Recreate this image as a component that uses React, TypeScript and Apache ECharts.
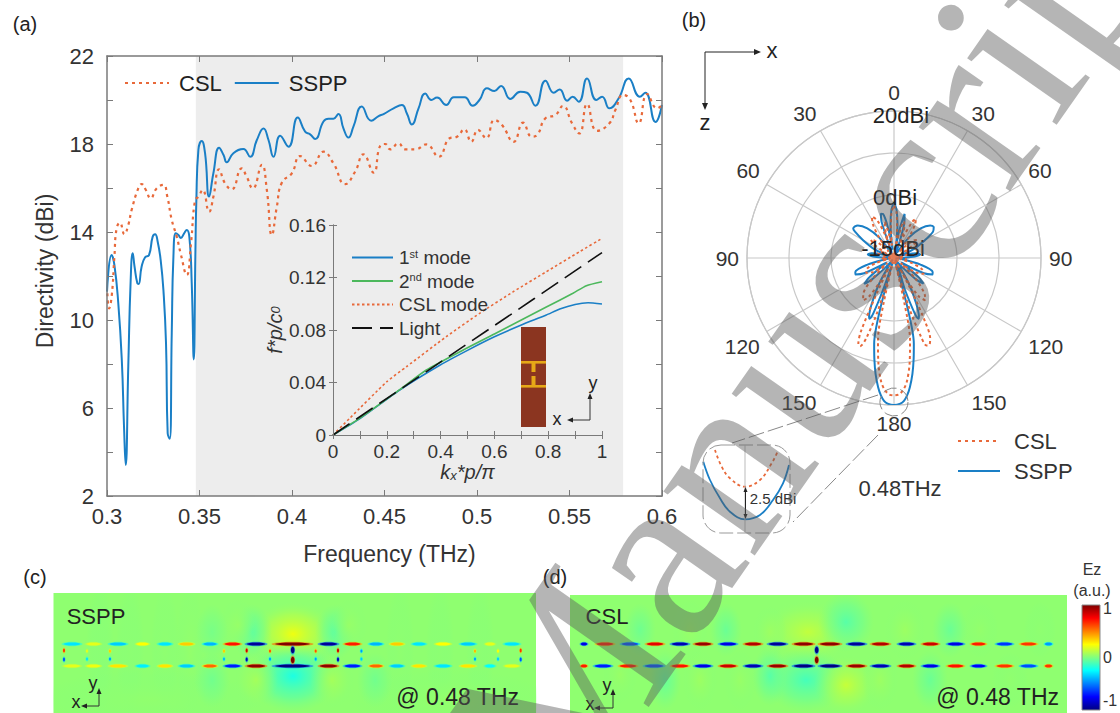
import React, { useEffect, useRef } from "react";
import * as echarts from "echarts";

const SANS = "'Liberation Sans', Arial, sans-serif";
const INK = "#333333";
const AXIS = "#7a7a7a";
const BLUE = "#1a7fc6";
const ORANGE = "#e8693a";

// (a) directivity: [frequency THz, dBi]
const sspp: number[][] = [[.3,11.29],[.3025,12.95],[.304,12.5],[.3061,10.76],[.308,8.18],[.3092,5.15],[.3101,3.41],[.3115,7.88],[.3128,11.82],[.3139,13.03],[.3149,12.42],[.3164,11.67],[.3171,11.64],[.3187,12.42],[.3206,12.85],[.3227,12.95],[.3247,13.79],[.326,13.9],[.3274,13.56],[.329,12.73],[.3305,11.36],[.3319,8.94],[.3328,4.85],[.3339,4.6],[.335,9.4],[.3359,12.88],[.3372,13.94],[.3386,13.86],[.3399,13.73],[.3417,13.94],[.3431,14.09],[.3445,13.79],[.3458,11.67],[.3469,8.21],[.3478,13.18],[.3483,15.45],[.3494,17.73],[.3512,18.14],[.353,17.58],[.3552,15.61],[.3575,16.67],[.3606,17.83],[.363,17.5],[.3647,17.17],[.3683,17.58],[.3737,17.77],[.3774,17.42],[.381,18.18],[.3846,18.7],[.3873,18.18],[.39,17.42],[.3936,18.38],[.3981,17.88],[.4031,19.2],[.4071,18.56],[.4098,18.44],[.4125,18.23],[.417,19.02],[.4197,19.15],[.4224,19.15],[.4251,19.36],[.4278,18.71],[.4305,18.29],[.4332,18.79],[.4377,19.7],[.4428,19.06],[.4468,19.27],[.4495,19.36],[.4549,19.62],[.4594,19.77],[.4621,19.39],[.4648,18.89],[.4684,19.62],[.472,20.3],[.4753,20],[.4784,20.11],[.4834,19.77],[.4874,20.12],[.4933,20.12],[.4977,19.74],[.5013,20],[.5054,20.53],[.5094,20.41],[.513,20.64],[.518,20.05],[.5234,20.38],[.527,20.33],[.5316,19.74],[.537,20.88],[.5415,20.33],[.5447,20.48],[.5487,19.97],[.5517,20.15],[.555,19.92],[.5595,20.98],[.5645,20],[.5676,20.15],[.5716,19.62],[.5766,20.08],[.582,20.98],[.588,20.15],[.591,20.33],[.5965,19],[.6,19.77]];
const csl: number[][] = [[.3002,11.21],[.3011,10.53],[.3025,11.06],[.304,12.88],[.3052,14.17],[.307,14.42],[.3094,13.9],[.3115,14.32],[.3133,15],[.3169,15.98],[.3187,16.18],[.321,15.91],[.3236,15.53],[.3268,15.98],[.3305,16.14],[.3326,15.61],[.335,14.55],[.3377,13.79],[.3398,13.03],[.3431,12.05],[.3454,13.49],[.3476,15.45],[.3494,15.6],[.3517,15.91],[.3552,14.92],[.3575,15.6],[.3606,16.85],[.3638,16.21],[.3674,15.94],[.3728,16.89],[.3755,16.51],[.3788,15.98],[.3837,17.05],[.3864,15.91],[.3891,13.86],[.3918,15.15],[.3945,16.24],[.3999,16.67],[.4044,17.45],[.4107,17],[.417,17.65],[.4224,17.12],[.4287,16.18],[.4341,16.74],[.4386,17.53],[.4441,16.7],[.4477,17.92],[.4504,18],[.4531,17.76],[.4576,18.03],[.4612,17.76],[.4666,17.76],[.4726,17.98],[.4793,17.42],[.4852,18.26],[.4892,18.33],[.4931,18.67],[.4969,18.1],[.5005,18.64],[.505,18.26],[.5094,19.09],[.5135,18.86],[.5198,18.1],[.5249,18.97],[.5297,18.33],[.5325,18.41],[.537,19.17],[.5424,19.32],[.5465,19.73],[.5514,18.94],[.5553,18.48],[.5595,19.82],[.5649,18.6],[.5716,18.94],[.5748,19.55],[.579,20.23],[.5829,20],[.5874,18.94],[.592,20.27],[.5974,19.62],[.6,19.77]];
const shadeRange = [0.348, 0.579];
const freqTicks = ["0.3", "0.35", "0.4", "0.45", "0.5", "0.55", "0.6"];
const dirTicks = ["2", "", "6", "", "10", "", "14", "", "18", "", "22"];

// inset dispersion: [kx*p/pi, f*p/c0]
const mode1: number[][] = [[0,0],[.1,.0125],[.248,.0343],[.4,.0535],[.5,.0645],[.6,.0748],[.7,.0838],[.793,.0914],[.843,.096],[.9,.0995],[.948,.1008],[1,.0998]];
const mode2: number[][] = [[0,0],[.1,.0128],[.248,.0345],[.347,.0495],[.5,.0665],[.6,.077],[.7,.0876],[.793,.0975],[.892,.108],[.942,.1138],[1,.1168]];
const cslMode: number[][] = [[0,0],[.062,.0127],[.2,.0406],[.273,.052],[.421,.0749],[.545,.0927],[.669,.109],[.793,.1244],[.917,.1397],[1,.1498]];
const lightLine: number[][] = [[0,0],[.25,.0348],[.5,.0695],[.75,.1042],[1,.139]];
const kTicks = ["0", "", "0.2", "", "0.4", "", "0.6", "", "0.8", "", "1"];
const fTicks = ["0", "0.04", "0.08", "0.12", "0.16"];

// (b) radiation pattern: [angle deg, dBi]
const ssppPolar: number[][] = [[0,-1.7],[3,-3.5],[6,-7],[8,-11],[9,-13],[11,-8],[13.5,-4.2],[16,-6],[19,-11],[22,-14],[26,-13],[30,-13.5],[36,-9],[42,-5.5],[48,-3.4],[52,-3],[56,-3.8],[60,-6.5],[66,-10],[72,-14],[74,-12],[78,-9.5],[82,-8.7],[86,-10],[90,-13.5],[96,-14.5],[98,-13],[104,-8.5],[110,-5.2],[113,-5],[117,-7],[122,-13],[124,-12],[128,-7.5],[131,-5.7],[134,-7.5],[138,-12],[142,-14.5],[146,-13],[150,-8],[154,-3],[157,.2],[158,.6],[159.5,-1],[161,-7],[163,-14],[163.5,-14],[164.5,-5],[165.6,2],[167,6],[169,9.5],[171,13],[173,16],[174.5,17.8],[176,19.1],[177.5,19.7],[180,20],[182.5,19.7],[184,19.1],[185.5,17.8],[187,16],[189,13],[191,9.5],[193,6],[194.4,2],[195.5,-5],[196.5,-14],[199,-7],[200.5,-1],[202,.6],[203,.2],[206,-3],[210,-8],[214,-13],[218,-14.5],[222,-12],[226,-7.5],[229,-5.6],[232,-7.5],[236,-12],[238,-13],[243,-7],[247,-5],[250,-5.2],[256,-8.5],[262,-13],[264,-14],[270,-13.5],[274,-10],[278,-8.7],[282,-9.5],[286,-12],[288,-14],[294,-10],[300,-6.5],[304,-3.8],[306,-3],[312,-3.4],[318,-5.5],[324,-9],[330,-14],[338,-13],[341,-6],[343.5,-4],[346,-4.2],[349,-8],[351,-13],[352,-11],[354,-7],[357,-3.5],[360,-1.7]];
const cslPolar: number[][] = [[0,-2.5],[3,-4],[6,-8],[9,-12],[12,-9],[15,-6],[18,-7],[21,-12],[24,-9],[27,-5.2],[29,-4.3],[32,-5.5],[36,-9],[40,-13],[44,-11],[48,-8.8],[52,-8],[56,-9.5],[60,-13],[66,-11.5],[72,-11],[78,-12.5],[84,-14],[90,-12.5],[95,-12],[100,-13.5],[106,-10.5],[112,-7.8],[118,-7],[124,-9],[128,-13],[134,-8],[140,-3.6],[143.5,-2.5],[147,-4],[150,-9],[151,-13.5],[152,-6],[154,2],[155.8,6],[158,7.4],[159.7,7.2],[161,5],[163,-2],[165,-12],[166,-14],[167,-4],[169,5],[171.6,10.4],[174,14.5],[176,16.5],[178,17.5],[180,17.7],[182,17.5],[184,16.5],[186,14.5],[188.4,10.4],[191,5],[193,-4],[194,-14],[195,-12],[197,-2],[199,5],[201,7.5],[202.5,7.2],[204.3,4],[206,-6],[208,-13],[210,-9],[213,-4],[216,-2.5],[220,-3.6],[226,-8],[232,-13],[236,-9],[242,-7.5],[248,-8],[254,-10.5],[260,-13.5],[265,-12],[270,-12.5],[276,-14],[282,-12.5],[288,-11],[294,-11.5],[300,-13],[304,-9.5],[308,-8],[312,-8.8],[316,-11],[320,-13],[324,-9],[328,-5.5],[332,-3.8],[336,-5.2],[339,-9],[341,-12],[344,-7],[346,-6],[348,-9],[351,-12],[354,-8],[357,-4],[360,-2.5]];
const cslCore: number[][] = [[-15, 0]];
const angleTicks = ["0","30","60","90","120","150","180","150","120","90","60","30"];
const ringValues = [0, 10, 20];
const ringLabels = ["20dBi", "0dBi", "-15dBi"];

// zoomed detail of the main lobe: [offset across, offset down]
const detailSspp: number[][] = [[.3,16.7],[7,35],[17,53.3],[27,66.7],[42,74.3],[57,70],[70,55],[80,38.3],[86,20]];
const detailCsl: number[][] = [[12,5],[18.7,21.7],[27,33.3],[42,41.7],[57,35],[68.7,18.3],[75.3,5]];

// (c) and (d) field: background lobes [x, y, rx, ry, Ez]
const fieldC: number[][] = [[130,650,14,65,.025],[165,650,14,65,.03],[100,650,14,65,.02],[190,650,14,65,.04],[400,650,14,65,.03],[440,650,14,65,.025],[480,650,14,65,.025],[150,700,110,30,.035],[450,700,100,30,.04],[293,634,44,32,.24],[293,676,46,36,-.22],[252,632,20,28,-.08],[335,632,20,28,-.08],[238,625,18,26,.05],[349,625,18,26,.05],[256,680,22,28,.08],[332,680,22,28,.08],[212,680,18,28,-.035],[375,680,18,28,-.035],[212,632,16,28,-.02]];
const fieldD: number[][] = [[808,632,48,32,.14],[846,622,28,30,-.09],[806,680,42,32,-.13],[846,685,32,30,.15],[770,676,18,30,-.09],[770,632,17,26,.06],[740,680,16,30,.05],[726,630,16,27,-.05],[690,630,18,30,.05],[665,680,16,30,-.06],[700,680,17,30,.06],[640,630,16,27,-.04],[620,675,17,28,.05],[905,630,20,30,.06],[880,680,18,30,.06],[930,680,18,30,-.05],[950,630,18,28,-.05],[980,630,18,28,.04],[1010,680,18,28,.035],[1040,630,16,28,.03]];
// strips along the line: [x0, x1, Ez]
const stripCTop: number[][] = [[62,82,-.3],[85,102,.2],[108,128,-.35],[135,150,.25],[157,173,-.3],[178,195,.35],[202,218,-.4],[223,242,.72],[245,267,-.95],[272,313,1],[318,339,-.95],[343,362,.7],[368,384,-.4],[389,405,.35],[411,427,-.3],[434,452,.25],[459,477,-.35],[484,496,.2],[503,521,-.3]];
const stripCBot: number[][] = [[62,82,.2],[85,102,.22],[108,128,.3],[135,150,-.28],[157,173,.3],[178,195,-.35],[202,218,.55],[223,242,-.7],[245,267,.97],[272,313,-1],[318,339,.97],[343,362,-.7],[368,384,.55],[389,405,-.35],[411,427,.3],[434,452,-.3],[459,477,.3],[484,496,-.25],[503,521,.2]];
const stripDTop: number[][] = [[580,588,-.8],[595,615,.7],[620,640,-.6],[645,665,.8],[670,690,-.9],[693,713,.95],[718,738,-.8],[743,763,.9],[767,788,-.95],[792,815,.97],[818,842,.97],[846,867,-.95],[870,891,.9],[897,916,-.9],[921,940,.85],[946,965,-.8],[970,987,.7],[995,1014,-.65],[1019,1038,.65],[1044,1053,-.45]];
const stripDBot: number[][] = [[580,588,.7],[593,613,-.7],[618,638,.7],[643,665,-.6],[670,690,.72],[693,713,-.8],[718,738,.85],[743,763,-.9],[767,788,.95],[792,815,-1],[818,842,-1],[846,867,.95],[870,891,-.9],[897,916,.9],[921,940,-.8],[946,965,.72],[970,987,-.75],[995,1014,.65],[1019,1038,-.6],[1044,1053,.65]];
// vertical pieces: [x, y0, y1, Ez]
const postsC: number[][] = [[64,648,653,.65],[64,657,662,-.6],[87,649,653,.2],[87,657,661,-.3],[110,649,653,.35],[110,657,661,-.45],[224,649,653,.35],[224,657,661,-.4],[246.7,648,653,.85],[246.7,657,662,-.9],[270,649,653,.6],[270,657,661,-.45],[315.7,649,653,.6],[315.7,657,661,-.45],[338,648,653,.85],[338,657,662,-.9],[361.4,649,653,-.45],[361.4,657,661,-.35],[475,649,653,.4],[475,657,661,-.45],[498,649,653,.25],[498,657,661,-.35],[520.7,648,653,.65],[520.7,657,662,-.6]];
const postsMainC: number[][] = [[292.7,646,654,-1],[292.7,656,664,1]];
const postsMainD: number[][] = [[816.7,646,654,-1],[816.7,656,664,1]];
const rowY = { top: 644, bottom: 666 };
const cbTicks = ["1", "0", "-1"];

const clamp = (v: number) => Math.max(0, Math.min(1, v));
const jetRgb = (v: number) => {
  const t = (v + 1) / 2;
  const f = (c: number) => Math.round(255 * clamp(1.5 - Math.abs(4 * t - c)));
  return [f(3), f(2), f(1)];
};
const jet = (v: number, a = 1) => { const c = jetRgb(v); return `rgba(${c[0]},${c[1]},${c[2]},${a})`; };

const gridAxis = (gridIndex: number, min: number, max: number, extra: any = {}) => ({
  type: "value", gridIndex, min, max, show: false, ...extra,
});

const renderBand = (_: any, api: any) => {
  const a = api.coord([api.value(0), 22]);
  const b = api.coord([api.value(1), 2]);
  return { type: "rect", shape: { x: a[0], y: a[1], width: b[0] - a[0], height: b[1] - a[1] }, style: { fill: "#ededed" } };
};
const renderBlob = (_: any, api: any) => {
  const c = api.coord([api.value(0), api.value(1)]);
  const v = api.value(4);
  return {
    type: "ellipse",
    shape: { cx: c[0], cy: c[1], rx: api.value(2), ry: api.value(3) },
    style: {
      fill: new echarts.graphic.RadialGradient(0.5, 0.5, 0.5, [
        { offset: 0, color: jet(v, 0.9) },
        { offset: 0.6, color: jet(v * 0.6, 0.45) },
        { offset: 1, color: jet(v * 0.2, 0) },
      ]),
    },
  };
};
const renderStrip = (_: any, api: any) => {
  const a = api.coord([api.value(0), api.value(2)]);
  const b = api.coord([api.value(1), api.value(2)]);
  const v = api.value(3);
  const cx = (a[0] + b[0]) / 2;
  const rx = (b[0] - a[0]) / 2;
  return {
    type: "group",
    children: [
      { type: "ellipse", shape: { cx, cy: a[1], rx: rx + 0.5, ry: 2.3 }, style: { fill: jet(v * 0.55, 0.6) } },
      { type: "ellipse", shape: { cx, cy: a[1], rx: rx * 0.85, ry: 1.5 }, style: { fill: jet(v) } },
    ],
  };
};
const renderPost = (thick: number) => (_: any, api: any) => {
  const a = api.coord([api.value(0), api.value(1)]);
  const b = api.coord([api.value(0), api.value(2)]);
  const v = api.value(3);
  const cy = (a[1] + b[1]) / 2;
  const ry = Math.abs(b[1] - a[1]) / 2;
  return {
    type: "group",
    children: [
      { type: "ellipse", shape: { cx: a[0], cy, rx: thick + 0.6, ry: ry + 0.5 }, style: { fill: jet(v * 0.55, 0.6) } },
      { type: "ellipse", shape: { cx: a[0], cy, rx: thick, ry: ry * 0.8 }, style: { fill: jet(v) } },
    ],
  };
};
const fieldSeries = (idx: number, blobs: number[][], top: number[][], bot: number[][], posts: number[][], main: number[][]) => [
  { type: "custom", xAxisIndex: idx, yAxisIndex: idx, clip: true, silent: true, z: 2, renderItem: renderBlob, encode: { x: 0, y: 1 }, data: blobs },
  { type: "custom", xAxisIndex: idx, yAxisIndex: idx, clip: true, silent: true, z: 3, renderItem: renderStrip, encode: { x: [0, 1], y: 2 }, data: top.map((s) => [s[0], s[1], rowY.top, s[2]]) },
  { type: "custom", xAxisIndex: idx, yAxisIndex: idx, clip: true, silent: true, z: 3, renderItem: renderStrip, encode: { x: [0, 1], y: 2 }, data: bot.map((s) => [s[0], s[1], rowY.bottom, s[2]]) },
  { type: "custom", xAxisIndex: idx, yAxisIndex: idx, clip: true, silent: true, z: 3, renderItem: renderPost(1), encode: { x: 0, y: [1, 2] }, data: posts },
  { type: "custom", xAxisIndex: idx, yAxisIndex: idx, clip: true, silent: true, z: 3, renderItem: renderPost(1.8), encode: { x: 0, y: [1, 2] }, data: main },
];

const txt = (text: string, x: number, y: number, fontSize: number, extra: any = {}) => ({
  type: "text", z: 40, x, y,
  style: { text, fontSize, fontFamily: SANS, fill: "#222", align: "center", verticalAlign: "middle", ...extra },
});
const seg = (x1: number, y1: number, x2: number, y2: number, stroke = "#333", lineWidth = 1, lineDash?: number[]) => ({
  type: "line", z: 40, shape: { x1, y1, x2, y2 }, style: { stroke, lineWidth, lineDash },
});
const head = (pts: number[][], fill = "#222") => ({ type: "polygon", z: 40, shape: { points: pts }, style: { fill } });
const axesMark = (cx: number, cy: number, top: number, left: number, yx: number, yy: number, xx: number, xy: number) => [
  seg(cx, cy, cx, top), seg(cx, cy, left, cy),
  head([[cx, top - 4], [cx - 2.5, top + 2], [cx + 2.5, top + 2]]),
  head([[left - 4, cy], [left + 2, cy - 2.5], [left + 2, cy + 2.5]]),
  txt("y", yx, yy, 18), txt("x", xx, xy, 18),
];

const insetAxisZ = 6;
const legendIconOff = { opacity: 0 };

const option: any = {
  animation: false,
  backgroundColor: "#fff",
  textStyle: { fontFamily: SANS },
  grid: [
    { left: 107, top: 56, width: 555, height: 440 },
    { left: 333, top: 225, width: 269, height: 210 },
    { left: 53.5, top: 593, width: 482.5, height: 120, show: true, backgroundColor: jet(0.03), borderWidth: 0 },
    { left: 570, top: 595, width: 497, height: 118, show: true, backgroundColor: jet(0.03), borderWidth: 0 },
    { left: 703, top: 445, width: 87, height: 88 },
  ],
  xAxis: [
    {
      type: "value", gridIndex: 0, z: 6, min: 0.3, max: 0.6, interval: 0.05, name: "Frequency (THz)", nameLocation: "middle", nameGap: 46,
      nameTextStyle: { fontSize: 23, color: INK, padding: [0, 0, 0, 10] }, axisLine: { lineStyle: { color: AXIS, width: 1.5 } },
      axisTick: { inside: true, length: 6, lineStyle: { color: AXIS } }, splitLine: { show: false },
      axisLabel: { fontSize: 22, color: INK, margin: 9, hideOverlap: false, showMinLabel: true, showMaxLabel: true, formatter: (_: number, i: number) => freqTicks[i] ?? "" },
    },
    {
      type: "value", gridIndex: 0, z: 6, position: "top", min: 0.3, max: 0.6, interval: 0.05, axisLine: { lineStyle: { color: AXIS, width: 1.5 } },
      axisTick: { inside: true, length: 6, lineStyle: { color: AXIS } }, splitLine: { show: false }, axisLabel: { show: false },
    },
    {
      type: "value", gridIndex: 1, z: insetAxisZ, min: 0, max: 1, interval: 0.1, name: "k{sub|x}*p/π", nameLocation: "middle", nameGap: 27,
      nameTextStyle: { fontSize: 20, color: INK, fontStyle: "italic", rich: { sub: { fontSize: 13, fontStyle: "italic", verticalAlign: "bottom", color: INK, padding: [6, 0, 0, 0] } } },
      axisLine: { lineStyle: { color: AXIS, width: 1 } }, axisTick: { inside: true, length: 4, lineStyle: { color: AXIS } }, splitLine: { show: false },
      axisLabel: { fontSize: 19, color: INK, margin: 7, formatter: (_: number, i: number) => kTicks[i] ?? "" },
    },
    {
      type: "value", gridIndex: 1, z: insetAxisZ, position: "top", min: 0, max: 1, interval: 0.1, axisLine: { lineStyle: { color: AXIS, width: 1 } },
      axisTick: { inside: true, length: 4, lineStyle: { color: AXIS } }, splitLine: { show: false }, axisLabel: { show: false },
    },
    gridAxis(2, 53.5, 536),
    gridAxis(3, 570, 1067),
    gridAxis(4, 0, 87),
  ],
  yAxis: [
    {
      type: "value", gridIndex: 0, z: 6, min: 2, max: 22, interval: 2, name: "Directivity (dBi)", nameLocation: "middle", nameGap: 51,
      nameTextStyle: { fontSize: 23, color: INK, padding: [0, 0, 0, 10] }, axisLine: { show: true, lineStyle: { color: AXIS, width: 1.5 } },
      axisTick: { show: true, inside: true, length: 6, lineStyle: { color: AXIS } }, splitLine: { show: false },
      axisLabel: { fontSize: 22, color: INK, margin: 13, formatter: (_: number, i: number) => dirTicks[i] ?? "" },
    },
    {
      type: "value", gridIndex: 0, z: 6, position: "right", min: 2, max: 22, interval: 2, axisLine: { show: true, lineStyle: { color: AXIS, width: 1.5 } },
      axisTick: { show: true, inside: true, length: 6, lineStyle: { color: AXIS } }, splitLine: { show: false }, axisLabel: { show: false },
    },
    {
      type: "value", gridIndex: 1, z: insetAxisZ, min: 0, max: 0.16, interval: 0.04, name: "f*p/c{sub|0}", nameLocation: "middle", nameGap: 26,
      nameTextStyle: { fontSize: 20, color: INK, fontStyle: "italic", rich: { sub: { fontSize: 13, fontStyle: "italic", color: INK } } },
      axisLine: { show: true, lineStyle: { color: AXIS, width: 1 } }, axisTick: { show: true, inside: true, length: 4, lineStyle: { color: AXIS } }, splitLine: { show: false },
      axisLabel: { fontSize: 19, color: INK, margin: 7, formatter: (_: number, i: number) => fTicks[i] ?? "" },
    },
    {
      type: "value", gridIndex: 1, z: insetAxisZ, position: "right", min: 0, max: 0.16, interval: 0.04, axisLine: { show: true, lineStyle: { color: AXIS, width: 1 } },
      axisTick: { show: true, inside: true, length: 4, lineStyle: { color: AXIS } }, splitLine: { show: false }, axisLabel: { show: false },
    },
    gridAxis(2, 593, 713, { inverse: true }),
    gridAxis(3, 595, 713, { inverse: true }),
    gridAxis(4, 0, 88, { inverse: true }),
  ],
  polar: { center: [894, 258], radius: 147 },
  angleAxis: {
    type: "value", min: 0, max: 360, interval: 30, startAngle: 90, clockwise: true,
    axisLine: { lineStyle: { color: "#c8c8c8", width: 1.2 } }, axisTick: { show: false },
    splitLine: { show: true, lineStyle: { color: "#c8c8c8", width: 1.2 } },
    axisLabel: { fontSize: 21, color: INK, margin: 8, formatter: (_: number, i: number) => angleTicks[i] ?? "" },
  },
  radiusAxis: {
    type: "value", min: -15, max: 20, axisLine: { show: false },
    axisTick: { show: false, customValues: ringValues }, axisLabel: { show: false },
    splitLine: { show: true, lineStyle: { color: "#c8c8c8", width: 1.2 } },
  },
  legend: [
    { data: ["CSL", "SSPP"], left: 124, top: 72, padding: 0, itemWidth: 44, itemHeight: 14, itemGap: 12, selectedMode: false, itemStyle: legendIconOff, textStyle: { fontSize: 22, color: "#222", padding: [0, 0, 0, 5] } },
    {
      data: ["1st mode", "2nd mode", "CSL mode", "Light"], orient: "vertical", left: 351, top: 248, padding: 0, itemWidth: 41, itemHeight: 14, itemGap: 4.5, selectedMode: false, itemStyle: legendIconOff,
      formatter: (n: string) => (n === "1st mode" ? "1{sup|st} mode" : n === "2nd mode" ? "2{sup|nd} mode" : n),
      textStyle: { fontSize: 19, color: "#333", padding: [0, 0, 0, 1], rich: { sup: { fontSize: 11, color: "#333", verticalAlign: "top", lineHeight: 14 } } },
    },
    { data: ["CSL", "SSPP"], orient: "vertical", left: 957, top: 430, padding: 0, itemWidth: 42, itemHeight: 14, itemGap: 8, selectedMode: false, itemStyle: legendIconOff, textStyle: { fontSize: 22, color: "#333", padding: [0, 0, 0, 9] } },
  ],
  series: [
    { type: "custom", xAxisIndex: 0, yAxisIndex: 0, silent: true, z: 1, renderItem: renderBand, encode: { x: [0, 1] }, data: [shadeRange] },
    { name: "SSPP", type: "line", xAxisIndex: 0, yAxisIndex: 0, data: sspp, smooth: 0.5, symbol: "none", lineStyle: { color: BLUE, width: 2 }, itemStyle: { color: BLUE } },
    { name: "CSL", type: "line", xAxisIndex: 0, yAxisIndex: 0, data: csl, smooth: 0.5, symbol: "none", lineStyle: { color: ORANGE, width: 2.2, type: [3, 4] }, itemStyle: { color: ORANGE } },
    { name: "1st mode", type: "line", xAxisIndex: 2, yAxisIndex: 2, data: mode1, smooth: 0.2, symbol: "none", lineStyle: { color: BLUE, width: 1.6 }, itemStyle: { color: BLUE } },
    { name: "2nd mode", type: "line", xAxisIndex: 2, yAxisIndex: 2, data: mode2, smooth: 0.2, symbol: "none", lineStyle: { color: "#4cb85c", width: 1.6 }, itemStyle: { color: "#4cb85c" } },
    { name: "CSL mode", type: "line", xAxisIndex: 2, yAxisIndex: 2, data: cslMode, smooth: 0.2, symbol: "none", lineStyle: { color: ORANGE, width: 1.6, type: [2.5, 2.5] }, itemStyle: { color: ORANGE } },
    { name: "Light", type: "line", xAxisIndex: 2, yAxisIndex: 2, data: lightLine, symbol: "none", lineStyle: { color: "#111", width: 1.6, type: [20, 8] }, itemStyle: { color: "#111" } },
    { name: "SSPP", type: "line", coordinateSystem: "polar", data: ssppPolar.map((p) => [p[1], p[0]]), smooth: 0.3, symbol: "none", lineStyle: { color: BLUE, width: 2 }, itemStyle: { color: BLUE } },
    { name: "CSL", type: "line", coordinateSystem: "polar", data: cslPolar.map((p) => [p[1], p[0]]), smooth: 0.3, symbol: "none", lineStyle: { color: ORANGE, width: 2, type: [3, 3] }, itemStyle: { color: ORANGE } },
    { type: "scatter", coordinateSystem: "polar", data: cslCore, symbol: "circle", symbolSize: 11, silent: true, itemStyle: { color: ORANGE }, z: 3 },
    { name: "SSPP", type: "line", xAxisIndex: 6, yAxisIndex: 6, data: detailSspp, smooth: 0.4, symbol: "none", lineStyle: { color: BLUE, width: 1.8 } },
    { name: "CSL", type: "line", xAxisIndex: 6, yAxisIndex: 6, data: detailCsl, smooth: 0.4, symbol: "none", lineStyle: { color: ORANGE, width: 1.8, type: [3, 3] } },
    ...fieldSeries(4, fieldC, stripCTop, stripCBot, postsC, postsMainC),
    ...fieldSeries(5, fieldD, stripDTop, stripDBot, [], postsMainD),
  ],
  graphic: [
    {
      type: "group",
      children: [
        txt("(a)", 25, 24, 20), txt("(b)", 694, 20, 20), txt("(c)", 35, 577, 20), txt("(d)", 555, 577, 20),
        // unit cell
        { type: "rect", z: 40, shape: { x: 521, y: 327, width: 25, height: 100 }, style: { fill: "#8b3520" } },
        { type: "rect", z: 41, shape: { x: 521, y: 361, width: 25, height: 2.6 }, style: { fill: "#e6a817" } },
        { type: "rect", z: 41, shape: { x: 521, y: 385, width: 25, height: 2.6 }, style: { fill: "#e6a817" } },
        { type: "rect", z: 41, shape: { x: 531.5, y: 363, width: 4, height: 9 }, style: { fill: "#e6a817" } },
        { type: "rect", z: 41, shape: { x: 531.5, y: 376, width: 4, height: 9 }, style: { fill: "#e6a817" } },
        ...axesMark(590, 420, 397, 571, 593, 383, 557, 419),
        // direction marker of (b)
        seg(705, 52, 757, 52, "#222"), seg(705, 52, 705, 106, "#222"),
        head([[761, 52], [754, 49], [754, 55]]), head([[705, 110], [702, 103], [708, 103]]),
        txt("x", 772, 50, 22), txt("z", 705, 122, 22),
        ...ringLabels.map((t, i) => txt(t, [901, 895, 893][i], [115, 197, 248][i], 22, { fill: "#222" })),
        txt("0.48THz", 900, 488, 22, { fill: "#333" }),
        // detail call-out
        { type: "circle", z: 40, shape: { cx: 894, cy: 402, r: 14 }, style: { fill: "none", stroke: "#888", lineWidth: 1, lineDash: [14, 4] } },
        { type: "rect", z: 30, shape: { x: 703, y: 445, width: 87, height: 88, r: 18 }, style: { fill: "none", stroke: "#999", lineWidth: 1, lineDash: [14, 4] } },
        seg(745, 445, 745, 533, "#bbbbbb"),
        seg(878, 395, 732, 443, "#888", 1, [16, 4]), seg(878, 435, 793, 522, "#888", 1, [16, 4]),
        seg(745.5, 490, 745.5, 517, "#222"),
        head([[745.5, 487], [743.5, 492], [747.5, 492]]), head([[745.5, 519], [743.5, 514], [747.5, 514]]),
        txt("2.5 dBi", 773, 498, 15, { fill: "#333" }),
        // field annotations
        txt("SSPP", 96, 616, 22), txt("CSL", 607, 616, 22),
        txt("@ 0.48 THz", 519, 697, 23, { align: "right" }), txt("@ 0.48 THz", 1059, 697, 23, { align: "right" }),
        ...axesMark(99, 706, 692, 85, 93, 683, 76, 702),
        ...axesMark(613, 708, 693, 598, 607, 685, 590, 704),
        // colour bar
        {
          type: "rect", z: 40, shape: { x: 1082, y: 605, width: 18, height: 105 },
          style: {
            stroke: "#8a8a8a", lineWidth: 1,
            fill: new echarts.graphic.LinearGradient(0, 1, 0, 0, [0, .125, .25, .375, .5, .625, .75, .875, 1].map((offset) => ({ offset, color: jet(offset * 2 - 1) }))),
          },
        },
        txt("Ez", 1092, 569, 16, { fill: "#333" }), txt("(a.u.)", 1092, 590, 16, { fill: "#333" }),
        ...cbTicks.map((t, i) => txt(t, 1103, [608, 657, 700][i], 16, { fill: "#333", align: "left" })),
        // watermark
        {
          type: "text", z: 100, x: 598, y: 848, rotation: (55 * Math.PI) / 180,
          style: { text: "Manuscript", fontSize: 243, fontFamily: "'Liberation Serif', serif", fill: "rgba(90,90,90,0.45)", align: "left", verticalAlign: "bottom" },
        },
      ],
    },
  ],
};

export default function App() {
  const ref = useRef<HTMLDivElement>(null);
  useEffect(() => {
    document.body.style.margin = "0";
    document.body.style.overflow = "hidden";
    const chart = echarts.init(ref.current!, undefined, { renderer: "svg" });
    chart.setOption(option);
    return () => chart.dispose();
  }, []);
  return <div ref={ref} style={{ width: 1120, height: 713 }} />;
}
